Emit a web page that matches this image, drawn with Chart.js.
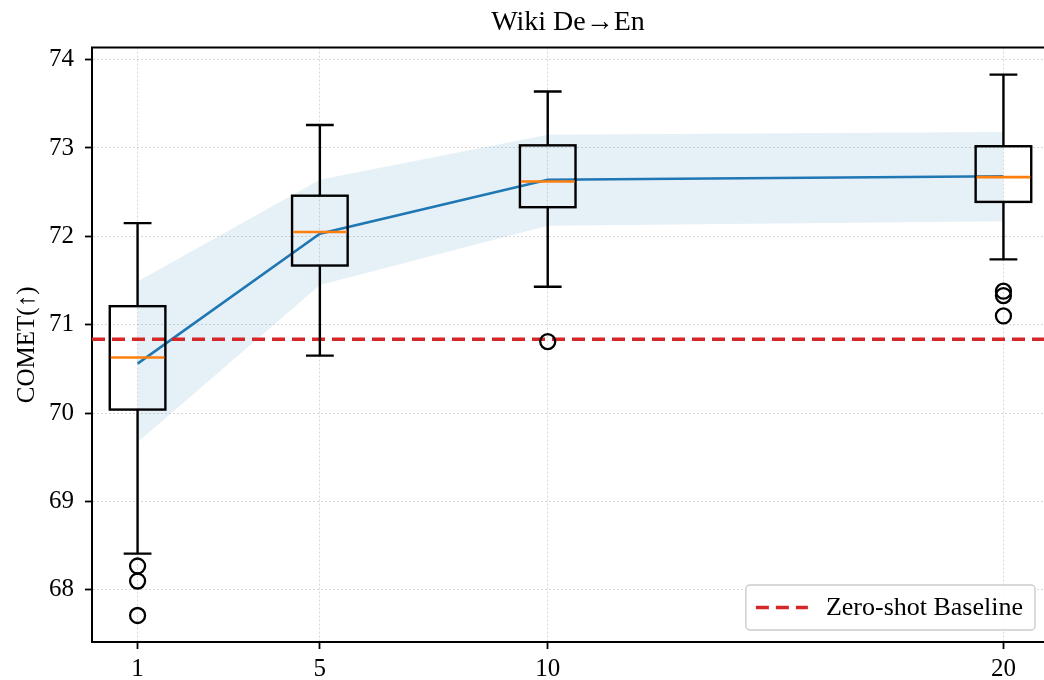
<!DOCTYPE html>
<html>
<head>
<meta charset="utf-8">
<script src="https://cdn.jsdelivr.net/npm/chart.js@4.4.1/dist/chart.umd.min.js"></script>
<style>
  html, body { margin: 0; padding: 0; background: #fff; }
  #wrap { width: 1044px; height: 680px; }
</style>
</head>
<body>
<div id="wrap"><canvas id="chart" width="1044" height="680"></canvas></div>
<script>
'use strict';

/* global Chart */

// ---- data ----
const SHOTS       = [1, 5, 10, 20];
const WHISKER_LO  = [68.41, 70.65, 71.43, 71.74];
const Q1          = [70.04, 71.67, 72.33, 72.39];
const MEDIAN      = [70.63, 72.05, 72.62, 72.67];
const Q3          = [71.21, 72.46, 73.03, 73.02];
const WHISKER_HI  = [72.15, 73.26, 73.64, 73.83];
const OUTLIERS    = [[68.27, 68.10, 67.71], [], [70.81], [71.38, 71.33, 71.10]];
const MEAN        = [70.56, 72.03, 72.64, 72.68];
const BAND_LO     = [69.67, 71.45, 72.12, 72.17];
const BAND_HI     = [71.49, 72.64, 73.15, 73.18];
const BASELINE    = 70.835;
const X_TICKS     = [1, 5, 10, 20];
const Y_TICKS     = [68, 69, 70, 71, 72, 73, 74];

const X_MIN = 0, X_MAX = 20.89;
const Y_MIN = 67.41, Y_MAX = 74.136;

const BOX_W = 1.22;               // box width in x units
const FONT = "'Liberation Serif', 'DejaVu Serif', serif";
const BLUE = '#1f77b4', ORANGE = '#ff7f0e', RED = '#d62728';

const pts = (xs, ys) => xs.map((x, i) => ({ x, y: ys[i] }));

// boxes, whiskers, medians, top spine and the legend
const boxPlugin = {
  id: 'boxes',
  afterDatasetsDraw(chart) {
    const { ctx, chartArea: a, scales: { x, y } } = chart;
    ctx.save();
    ctx.lineCap = 'butt';
    SHOTS.forEach((p, i) => {
      const cx = x.getPixelForValue(p);
      const l = x.getPixelForValue(p - BOX_W / 2), r = x.getPixelForValue(p + BOX_W / 2);
      const cl = x.getPixelForValue(p - BOX_W / 4), cr = x.getPixelForValue(p + BOX_W / 4);
      const yq1 = y.getPixelForValue(Q1[i]), yq3 = y.getPixelForValue(Q3[i]);
      const ylo = y.getPixelForValue(WHISKER_LO[i]), yhi = y.getPixelForValue(WHISKER_HI[i]);
      const ymed = y.getPixelForValue(MEDIAN[i]);

      ctx.strokeStyle = '#000';
      ctx.lineWidth = 2.4;
      ctx.beginPath();
      ctx.moveTo(cx, yq3); ctx.lineTo(cx, yhi);
      ctx.moveTo(cl, yhi); ctx.lineTo(cr, yhi);
      ctx.moveTo(cx, yq1); ctx.lineTo(cx, ylo);
      ctx.moveTo(cl, ylo); ctx.lineTo(cr, ylo);
      ctx.stroke();
      ctx.strokeRect(l, yq3, r - l, yq1 - yq3);

      ctx.strokeStyle = ORANGE;
      ctx.lineWidth = 2.6;
      ctx.beginPath();
      ctx.moveTo(l + 1, ymed); ctx.lineTo(r - 1, ymed);
      ctx.stroke();
    });

    // top spine
    ctx.strokeStyle = '#000';
    ctx.lineWidth = 2;
    ctx.beginPath();
    ctx.moveTo(a.left - 1, a.top); ctx.lineTo(a.right, a.top);
    ctx.stroke();

    // legend, lower right inside the axes
    const label = 'Zero-shot Baseline';
    ctx.font = '26px ' + FONT;
    const tw = ctx.measureText(label).width;
    const w = 10 + 52 + 18 + tw + 12, h = 45;
    const lx = a.right - 9 - w, ly = a.bottom - 12 - h;
    ctx.fillStyle = 'rgba(255,255,255,0.85)';
    ctx.strokeStyle = '#cccccc';
    ctx.lineWidth = 1.4;
    ctx.beginPath();
    ctx.roundRect(lx, ly, w, h, 4);
    ctx.fill();
    ctx.stroke();
    const my = ly + h / 2;
    ctx.strokeStyle = RED;
    ctx.lineWidth = 3.6;
    ctx.setLineDash([13, 7]);
    ctx.beginPath();
    ctx.moveTo(lx + 10, my); ctx.lineTo(lx + 62, my);
    ctx.stroke();
    ctx.setLineDash([]);
    ctx.fillStyle = '#000';
    ctx.textBaseline = 'middle';
    ctx.textAlign = 'left';
    ctx.fillText(label, lx + 80, my + 1);
    ctx.restore();
  }
};

const tickFont = { family: FONT, size: 25 };
const grid = {
  color: 'rgba(0,0,0,0.2)', lineWidth: 0.8,
  tickColor: '#000', tickLength: 7, tickWidth: 1.8, tickBorderDash: []
};
const border = { display: true, color: '#000', width: 2, dash: [2, 2] };

new Chart(document.getElementById('chart'), {
  type: 'line',
  data: {
    datasets: [
      { label: 'band-hi', data: pts(SHOTS, BAND_HI), borderWidth: 0, pointRadius: 0,
        fill: '+1', backgroundColor: 'rgba(31,119,180,0.11)', order: 6 },
      { label: 'band-lo', data: pts(SHOTS, BAND_LO), borderWidth: 0, pointRadius: 0,
        fill: false, order: 6 },
      { label: 'mean', data: pts(SHOTS, MEAN), borderColor: BLUE, borderWidth: 2.5,
        pointRadius: 0, fill: false, order: 5 },
      { label: 'Zero-shot Baseline', data: [{ x: X_MIN, y: BASELINE }, { x: X_MAX, y: BASELINE }],
        borderColor: RED, borderWidth: 3.6, borderDash: [13, 7], pointRadius: 0, fill: false, order: 4 },
      { type: 'scatter', label: 'outliers',
        data: SHOTS.flatMap((s, i) => OUTLIERS[i].map(v => ({ x: s, y: v }))),
        pointStyle: 'circle', pointRadius: 7.5, borderColor: '#000', borderWidth: 2.3,
        backgroundColor: 'rgba(0,0,0,0)', order: 3 }
    ]
  },
  options: {
    responsive: false,
    animation: false,
    events: [],
    layout: { autoPadding: false, padding: 0 },
    plugins: {
      legend: { display: false },
      tooltip: { enabled: false },
      title: {
        display: true, text: 'Wiki De→En', fullSize: false, color: '#000',
        font: { family: FONT, size: 28, weight: 'normal' },
        padding: { top: 6, bottom: 8 }
      }
    },
    scales: {
      x: {
        type: 'linear', min: X_MIN, max: X_MAX,
        afterBuildTicks: s => { s.ticks = X_TICKS.map(v => ({ value: v })); },
        afterFit: s => { s.height = 38; },
        ticks: { font: tickFont, color: '#000', padding: 5, maxRotation: 0, autoSkip: false },
        grid, border
      },
      y: {
        type: 'linear', min: Y_MIN, max: Y_MAX,
        afterBuildTicks: s => { s.ticks = Y_TICKS.map(v => ({ value: v })); },
        afterFit: s => { s.width = 92; },
        ticks: { font: tickFont, color: '#000', padding: 11 },
        title: { display: true, text: 'COMET(↑)', color: '#000',
          font: { family: FONT, size: 25 }, padding: { top: 12, bottom: 0 } },
        grid, border
      }
    }
  },
  plugins: [boxPlugin]
});
</script>
</body>
</html>
